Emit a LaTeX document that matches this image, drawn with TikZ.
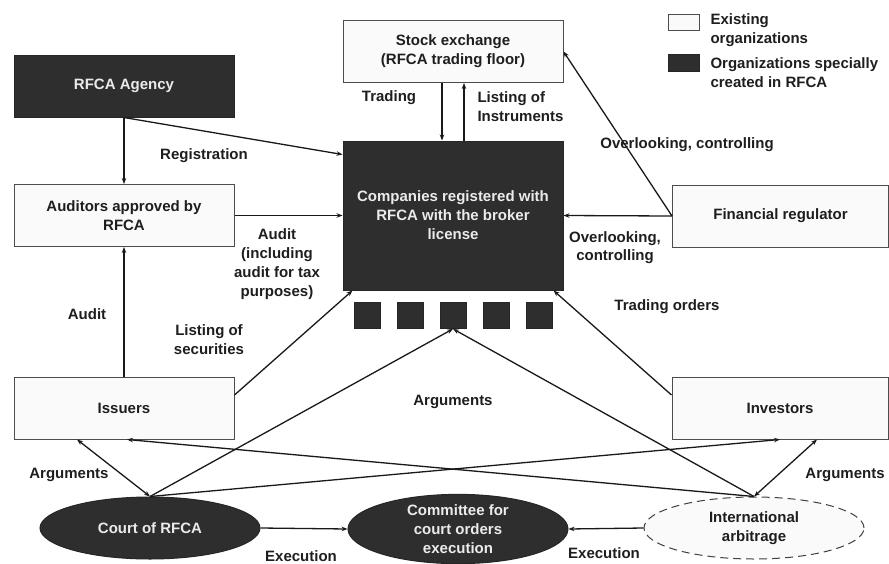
\documentclass[tikz,border=0pt]{standalone}
\usepackage{fontspec}
\setmainfont{Liberation Sans}
\usetikzlibrary{positioning,arrows.meta,shapes.geometric}
\definecolor{boxdark}{HTML}{2E2E2E}
\definecolor{boxlight}{HTML}{FAFAFA}
\definecolor{inkgray}{HTML}{1E1E1E}

\begin{document}
\begin{tikzpicture}[x=1pt,y=-1pt,>={Stealth[length=6pt,width=4.5pt]},
  every node/.style={font=\fontsize{15}{19}\selectfont\bfseries,text=inkgray,align=center},
  orgold/.style={draw=black!70,fill=boxlight,line width=1pt,minimum width=220pt,minimum height=62pt,inner sep=0pt},
  orgnew/.style={orgold,fill=boxdark,draw=black!85,text=white!92!black},
  courtell/.style={ellipse,fill=boxdark,draw=black!85,line width=1pt,text=white!92!black,minimum width=220pt,minimum height=62pt,inner sep=0pt},
  sq/.style={fill=boxdark,draw=black!85,line width=0.8pt,minimum size=26pt,inner sep=0pt},
  flow/.style={line width=1.3pt,draw=black!90}]
\useasboundingbox (0,0) rectangle (889,563);

% organizations
\node[orgold] (stock) at (453,51.5) {Stock exchange\\(RFCA trading floor)};
\node[orgnew] (agency) at (124,86) {RFCA Agency};
\node[orgnew,minimum height=149pt] (comp) at (453,215.5) {Companies registered with\\RFCA with the broker\\license};
\node[orgold] (aud) at (124,215.5) {Auditors approved by\\RFCA};
\node[orgold,minimum width=216pt] (fin) at (780.5,216) {Financial regulator};
\node[orgold] (iss) at (124,408) {Issuers};
\node[orgold,minimum width=216pt] (inv) at (780,408) {Investors};
\foreach \i in {1,...,5}
  \node[sq] (sq\i) at (324+43*\i,315.5) {};
\node[courtell] (court) at (150,528) {Court of RFCA};
\node[courtell,minimum height=64pt] (cmte) at (458,529) {Committee for\\court orders\\execution};
\node[courtell,fill=boxlight,draw=black!75,dash pattern=on 8pt off 5pt,text=inkgray] (arb) at (754,528) {International\\arbitrage};

% legend
\node[orgold,minimum width=31pt,minimum height=16pt] (keyold) at (683.5,22) {};
\node[orgnew,minimum width=31pt,minimum height=17pt] (keynew) at (683.5,62.5) {};
\node[anchor=west,align=left] (keyoldtxt) at (707,30.5) {Existing\\organizations};
\node[anchor=west,align=left] (keynewtxt) at (707,73) {Organizations specially\\created in RFCA};

% connectors
\draw[flow,->] ([xshift=-11pt]stock.south) -- ([xshift=-11pt]comp.north);
\draw[flow,->] ([xshift=11pt]comp.north) -- ([xshift=11pt]stock.south);
\draw[flow,->] (agency.south) -- ([yshift=-14pt]comp.north west);
\draw[flow,->] (agency.south) -- (aud.north);
\draw[flow,->] (aud.east) -- (comp.west);
\draw[flow,->] (iss.north) -- (aud.south);
\draw[flow,->] ([yshift=13pt]iss.east) -- ([xshift=10pt]comp.south west);
\draw[flow,->] (fin.west) -- (stock.east);
\draw[flow,->] (fin.west) -- (comp.east);
\draw[flow,->] ([yshift=13pt]inv.west) -- ([xshift=-10pt]comp.south east);
\draw[flow,<->] ([xshift=-47pt]iss.south) -- (court.north);
\draw[flow,->] (court.north) -- (sq3.south);
\draw[flow,->] (arb.north) -- (sq3.south);
\draw[flow,->] (court.north) -- (inv.south);
\draw[flow,->] (arb.north) -- ([xshift=3pt]iss.south);
\draw[flow,<->] ([xshift=37pt]inv.south) -- (arb.north);
\draw[flow,->] (court.east) -- (cmte.west);
\draw[flow,->] (arb.west) -- (cmte.east);

% labels
\node (lbltrade) at (389,98) {Trading};
\node[anchor=west,align=left] (lbllist) at (474,107) {Listing of\\Instruments};
\node (lblreg) at (204,156) {Registration};
\node (lblaudit) at (277,264.5) {Audit\\(including\\audit for tax\\purposes)};
\node (lblissaud) at (87,314) {Audit};
\node (lblsecur) at (209,340) {Listing of\\securities};
\node (lblfinstk) at (687,145) {Overlooking, controlling};
\node[font=\fontsize{15}{18}\selectfont\bfseries] (lblfincmp) at (615,248) {Overlooking,\\controlling};
\node (lblorders) at (667,307) {Trading orders};
\node (lblargmid) at (453,402) {Arguments};
\node (lblargl) at (69,475) {Arguments};
\node (lblargr) at (845,475) {Arguments};
\node (lblexecl) at (301,556) {Execution};
\node (lblexecr) at (604,553) {Execution};
\end{tikzpicture}
\end{document}
